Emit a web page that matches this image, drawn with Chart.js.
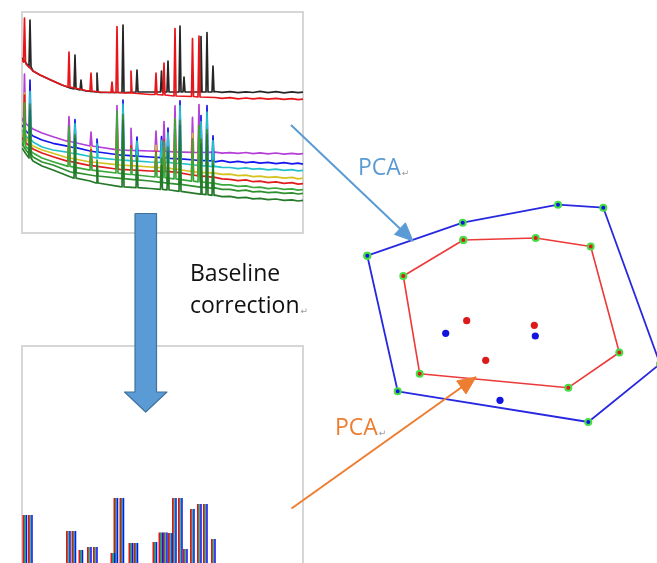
<!DOCTYPE html>
<html>
<head>
<meta charset="utf-8">
<script src="https://cdn.jsdelivr.net/npm/chart.js@4.4.0/dist/chart.umd.min.js"></script>
<style>
  html, body { margin: 0; padding: 0; background: #fff; width: 657px; height: 563px; overflow: hidden; position: relative; }
  .frame { position: absolute; border: 2px solid #d6d6d6; box-sizing: border-box; }
  #rawFrame { left: 21px; top: 11px; width: 283px; height: 223px; }
  #corrFrame { left: 21px; top: 345px; width: 283px; height: 240px; }
  canvas { position: absolute; }
  #rawChart { left: 22px; top: 12px; }
  #corrChart { left: 22px; top: 346px; }
  #flowChart { left: 0; top: 0; }
</style>
</head>
<body>
<div class="frame" id="rawFrame"></div>
<div class="frame" id="corrFrame"></div>
<canvas id="rawChart" width="281" height="220"></canvas>
<canvas id="corrChart" width="281" height="230"></canvas>
<canvas id="flowChart" width="657" height="563"></canvas>
<script>
// ---------- raw spectra (scan index vs. intensity, a.u.) ----------
// upper pair: baseline knots [scan, intensity] and peaks [scan, foot, top]
const blackBase = [[0,174],[4,169],[11,161],[18,157],[31,151],[40,147],[48,144],[64,141],[78,139.5],[103,139.5],[128,140],[153,140],[178,140],[193,140.5],[200,139.6],[208,140.4],[216,139.3],[224,140.2],[231,139.5],[238,140.6],[246,139.4],[254,140.3],[262,139.2],[270,140.1],[276,139.4],[281,139.8]];
const blackPeaks = [[8,165,212],[53,143,177],[59,142,152],[75,140,159],[101,139.5,207],[115,140,162],[139.5,140,161],[146,140,171],[158,140,206],[162,140,155],[179,140,195.5],[185,140,199.5],[191,140,166]];
const redTopBase = [[0,172],[4,168],[11,161],[18,157],[31,151],[40,147],[48,144.5],[64,141.5],[78,140],[103,139],[128,137.5],[153,136],[178,135],[193,134.5],[200,133.6],[208,134.4],[216,133.2],[224,134],[231,133.1],[238,133.9],[246,132.8],[254,133.6],[262,132.6],[270,133.3],[276,132.4],[281,132.8]];
const redTopPeaks = [[2.5,170,214],[47,145,180],[69,141,159],[90,139.5,150],[95,139.5,205.5],[109,139,161],[134,137.5,159],[142,137,169],[153,136,203.5],[170.5,135.5,193.5],[177,135,196]];

// lower group: shared knot positions, per-trace baseline values and peaks
const lowerKnots = [0,4,11,20,31,48,68,98,128,148,178,193,200,208,216,224,231,238,246,254,262,270,276,281];
const magentaBase = [114,108,103,99,95.3,90.3,86,82,81,80.3,79.5,79.9,78.8,79.4,78.6,79.5,78.4,79.1,78.2,79,77.9,78.7,77.8,78.3];
const blueBase    = [107,101,96,92,88.7,85.3,81,77,75,73.7,71.5,70.2,71.4,69.7,70.6,69.3,70.2,68.8,69.6,68.4,69.3,68.1,68.9,67.9];
const cyanBase    = [102,96,90,85,82,79.3,75.5,72,70,69.3,66.5,65.6,64.6,64.5,63.4,64.1,62.8,63.3,62.1,62.9,61.7,62.3,61.2,61.6];
const yellowBase  = [99,93,86,82,78.7,73.7,70,67,65,63.7,59.5,58.9,57.6,57.8,56.3,56.9,55.4,55.9,54.6,55.2,53.9,54.6,53.2,53.8];
const redLowBase  = [95,89,83,79,75.3,70.3,66.5,62.7,61,60.3,56,54.6,53.1,52.6,51.4,52.1,50.3,50.8,49.4,50.1,48.7,49.3,47.9,48.4];
const greenBase   = [91,85,79,74,70.3,65.3,62,58.7,55.5,53.7,50,48.6,47.2,47.1,45.6,46.2,44.5,44.9,43.4,44,42.6,43.2,41.8,42.3];
const green2Base  = [88,82,75,70,67,60.3,57,53.7,51,48.7,45,44.1,42.6,42.7,41.1,41.8,40.2,40.7,39.3,39.9,38.6,39.2,38,38.6];
const dkGreenBase = [84,78,71,66,62,55.3,51,45.3,43.5,42,38,36.8,35.4,35.6,34.1,34.7,33.2,33.6,32.4,33,31.6,32.2,31,31.6];

const magentaPeaks = [[2.5,110,158],[47,90.5,115.5],[69,86,100],[95,82.4,126.4],[109,81.6,103.6],[134,80.8,100.8],[142,80.5,110.5],[153,80.2,126.2],[170.5,79.7,114.7],[177,79.5,127.5]];
const yellowPeaks  = [[2.5,95,139],[47,74,102],[69,70,85],[95,67.3,115.3],[109,66.3,86.3],[134,64.6,86.6],[142,64.1,92.1],[153,63,113],[170.5,60.5,98.5],[177,59.6,105.6]];
const redLowPeaks  = [[2.5,91,137],[47,70.6,97.6],[69,66.4,82.4],[95,63,113],[109,62.1,86.1],[134,60.8,80.8],[142,60.5,92.5],[153,59.8,111.8],[170.5,57,93],[177,56.1,106.1]];
const greenPeaks   = [[2.5,87,129],[47,65.6,105.6],[69,61.9,79.9],[95,59,121],[109,57.5,83.5],[134,55,79],[142,54.3,90.3],[153,53.1,113.1],[170.5,50.9,92.9],[177,50.1,106.1]];
const bluePeaks    = [[8,98,152],[53,84.3,112.3],[75,80,93],[101,76.8,131.8],[115,75.9,94.9],[139.5,74.3,95.3],[146,73.8,103.8],[158,73.2,131.2],[179,71.5,116.5],[185,71.3,126.3],[191,71.1,96.1]];
const cyanPeaks    = [[8,92.6,140.6],[53,78.3,108.3],[75,74.2,88.2],[101,71.8,127.8],[115,70.9,90.9],[139.5,69.5,91.5],[146,69.3,99.3],[158,68.5,126.5],[179,66.4,110.4],[185,65.9,119.9],[191,65.4,91.4]];
const green2Peaks  = [[8,78,128],[53,59.3,97.3],[75,56,72],[101,53.4,117.4],[115,52.2,76.2],[139.5,49.7,73.7],[146,48.9,84.9],[158,47.6,111.6],[179,44.9,92.9],[185,44.3,102.3],[191,43.7,71.7]];
const dkGreenPeaks = [[8,74,122],[53,53.9,93.9],[75,49,67],[101,45.1,111.1],[115,44.3,70.3],[139.5,42.7,66.7],[146,42.1,80.1],[158,40.7,106.7],[179,37.9,87.9],[185,37.3,97.3],[191,36.7,66.7]];

// ---------- baseline-corrected spectra ----------
// sub-peaks [scan, height]; each sample is offset by its retention shift
const correctedPeaks = [[0.5,43],[6,43],[44,27],[49.5,27],[56.5,8],[65,11],[71,11],[88.5,5],[91.5,60],[97.5,60],[106.5,15],[111.5,15],[130.5,16],[136.5,25.5],[141,25.5],[146,25],[150,60],[156,60],[161,9],[168,49],[175,54],[181,54],[189,19]];
const sampleShifts = [0.9, 2.2, 3.0, 4.0];
const sampleColors = ['#e01616', '#1f8a2a', '#20c4c8', '#1212f2'];
const sampleWidths = [1.8, 1.1, 1.1, 1.5];

// ---------- PCA score plot and flow annotations (layout units) ----------
const outerHull = [[367.3,255.7],[462.7,222.7],[558,204.7],[603.3,207.7],[660,364],[588.3,422],[397.7,391.3]];
const innerHull = [[463.3,240],[535.7,238],[590.7,246.5],[619.3,352.5],[568.3,387.7],[419.7,373.7],[403.3,276]];
const redScores = [[466.7,320.7],[534.3,325.3],[485.7,360.3]];
const blueScores = [[445.7,333.3],[535.3,336],[500,400.3]];
const flowArrows = [
  { from: [291, 125], to: [413, 241], color: '#5b9bd5' },
  { from: [291.5, 508.5], to: [476, 377], color: '#ed7d31' }
];
const bigArrow = [[135,213.5],[156.5,213.5],[156.5,392],[167,392],[145.7,412],[124.5,392],[135,392]];
const captions = [
  { text: 'PCA', at: [358, 175], color: '#5b9bd5', mark: true },
  { text: 'Baseline', at: [190, 281], color: '#111111' },
  { text: 'correction', at: [190, 313], color: '#111111', mark: true },
  { text: 'PCA', at: [335, 435], color: '#ed7d31', mark: true }
];

// ---------- helpers ----------
function tracePoints(base, peaks) {
  const pts = base
    .filter(([s]) => !peaks.some(([p]) => Math.abs(p - s) < 1.4))
    .map(([s, v]) => ({ x: s, y: v }));
  peaks.forEach(([s, foot, top]) => {
    pts.push({ x: s - 1, y: foot }, { x: s, y: top }, { x: s + 1, y: foot });
  });
  return pts.sort((a, b) => a.x - b.x);
}
const zipKnots = vals => lowerKnots.map((s, i) => [s, vals[i]]);
const asXY = arr => arr.map(([x, y]) => ({ x, y }));
const closed = arr => asXY(arr.concat([arr[0]]));

function trace(base, peaks, color) {
  return { data: tracePoints(base, peaks), borderColor: color, borderWidth: 1.7, pointRadius: 0, fill: false };
}

function baseOptions(xMin, xMax, yMin, yMax, reverse) {
  return {
    responsive: false,
    animation: false,
    events: [],
    layout: { padding: 0, autoPadding: false },
    plugins: { legend: { display: false }, tooltip: { enabled: false } },
    elements: { line: { tension: 0, borderJoinStyle: 'round' } },
    scales: {
      x: { type: 'linear', min: xMin, max: xMax, display: false },
      y: { type: 'linear', min: yMin, max: yMax, reverse: !!reverse, display: false }
    }
  };
}

// raw spectra: first dataset is drawn on top
new Chart(document.getElementById('rawChart'), {
  type: 'line',
  data: {
    datasets: [
      trace(zipKnots(dkGreenBase), dkGreenPeaks, '#24792a'),
      trace(zipKnots(green2Base), green2Peaks, '#2f902f'),
      trace(zipKnots(greenBase), greenPeaks, '#3aa83a'),
      trace(zipKnots(redLowBase), redLowPeaks, '#e21c1c'),
      trace(zipKnots(yellowBase), yellowPeaks, '#d4c21e'),
      trace(zipKnots(cyanBase), cyanPeaks, '#22c2cc'),
      trace(zipKnots(blueBase), bluePeaks, '#1616ee'),
      trace(zipKnots(magentaBase), magentaPeaks, '#b540d8'),
      trace(redTopBase, redTopPeaks, '#e8161b'),
      trace(blackBase, blackPeaks, '#262626')
    ]
  },
  options: baseOptions(0, 281, 0, 220)
});

// corrected spectra: one stripe per sample at each sub-peak
const corrSets = sampleColors.map((color, k) => {
  const pts = [];
  correctedPeaks.forEach(([s, h]) => {
    const x = s + sampleShifts[k];
    pts.push({ x, y: -18 }, { x, y: h }, { x, y: null });
  });
  return { data: pts, borderColor: color, borderWidth: sampleWidths[k], borderCapStyle: 'butt', pointRadius: 0, spanGaps: false, fill: false };
}).reverse();

new Chart(document.getElementById('corrChart'), {
  type: 'line',
  data: { datasets: corrSets },
  options: baseOptions(0, 281, -18, 212)
});

// arrowheads from each arrow's end point
function arrowHead(a, len, half) {
  const [x0, y0] = a.from, [x1, y1] = a.to;
  const d = Math.hypot(x1 - x0, y1 - y0);
  const ux = (x1 - x0) / d, uy = (y1 - y0) / d;
  const bx = x1 - ux * len, by = y1 - uy * len;
  return [[x1, y1], [bx - uy * half, by + ux * half], [bx + uy * half, by - ux * half]];
}

const captionPlugin = {
  id: 'captions',
  afterDatasetsDraw(chart) {
    const { ctx, scales: { x, y } } = chart;
    ctx.save();
    ctx.textBaseline = 'alphabetic';
    ctx.textAlign = 'left';
    captions.forEach(c => {
      const px = x.getPixelForValue(c.at[0]);
      const py = y.getPixelForValue(c.at[1]);
      ctx.font = '23px "Open Sans", sans-serif';
      ctx.fillStyle = c.color;
      ctx.fillText(c.text, px, py);
      if (c.mark) {
        const w = ctx.measureText(c.text).width;
        ctx.font = '9px "DejaVu Sans", sans-serif';
        ctx.fillStyle = '#9a9a9a';
        ctx.fillText('\u21B5', px + w + 1, py + 1);
      }
    });
    ctx.restore();
  }
};

const flowSets = [
  { data: closed(bigArrow), borderColor: '#41719c', borderWidth: 1.2, backgroundColor: '#5b9bd5', fill: 'shape', pointRadius: 0 }
];
flowArrows.forEach(a => {
  flowSets.push({ data: asXY(arrowHead(a, 18, 8)).concat([{ x: a.to[0], y: a.to[1] }]), borderColor: a.color, borderWidth: 1, backgroundColor: a.color, fill: 'shape', pointRadius: 0 });
  flowSets.push({ data: asXY([a.from, a.to]), borderColor: a.color, borderWidth: 2, pointRadius: 0, fill: false });
});
flowSets.push(
  { data: asXY(redScores), showLine: false, pointRadius: 3.6, pointBackgroundColor: '#dd1a1a', pointBorderWidth: 0 },
  { data: asXY(blueScores), showLine: false, pointRadius: 3.6, pointBackgroundColor: '#1414e0', pointBorderWidth: 0 },
  { data: closed(innerHull), borderColor: '#ec3a3a', borderWidth: 1.6, fill: false,
    pointRadius: 3, pointBorderWidth: 2, pointBackgroundColor: '#dd1a1a', pointBorderColor: '#45df45' },
  { data: closed(outerHull), borderColor: '#2828e0', borderWidth: 1.8, fill: false,
    pointRadius: 3, pointBorderWidth: 2, pointBackgroundColor: '#1414e0', pointBorderColor: '#45df45' }
);

new Chart(document.getElementById('flowChart'), {
  type: 'line',
  data: { datasets: flowSets },
  options: baseOptions(0, 657, 0, 563, true),
  plugins: [captionPlugin]
});
</script>
</body>
</html>
